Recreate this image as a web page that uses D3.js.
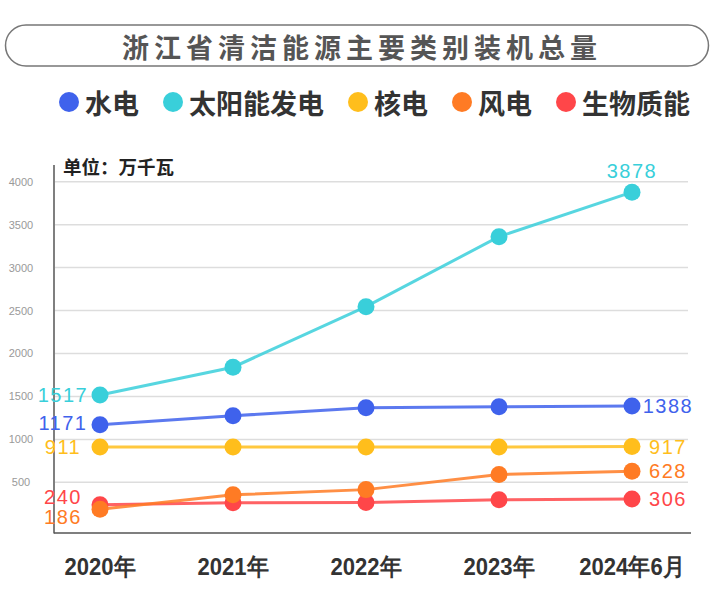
<!DOCTYPE html>
<html><head><meta charset="utf-8">
<script src="https://cdn.jsdelivr.net/npm/d3@7"></script>
<style>
html,body{margin:0;padding:0;background:#fff;}
svg{display:block;}
</style></head>
<body>
<svg id="chart" width="720" height="604"></svg>
<script>
const title = "浙江省清洁能源主要类别装机总量";
const unitLabel = "单位：万千瓦";
const categories = ["2020年", "2021年", "2022年", "2023年", "2024年6月"];
const seriesNames = ["水电", "太阳能发电", "核电", "风电", "生物质能"];
const seriesColors = ["#3F62EC", "#39CFDA", "#FFBE1C", "#FF7B24", "#FF4649"];
const hydro   = [1171, 1275, 1368, 1380, 1388];
const solar   = [1517, 1840, 2545, 3360, 3878];
const nuclear = [911, 911, 911, 911, 917];
const wind    = [186, 355, 415, 592, 628];
const biomass = [240, 262, 264, 296, 306];
const yTicks = [500, 1000, 1500, 2000, 2500, 3000, 3500, 4000];

const seriesValues = [hydro, solar, nuclear, wind, biomass];
const svg = d3.select("#chart");
const cjk = "'Noto Sans CJK SC','Noto Sans',sans-serif";
const num = "'Liberation Sans',Arial,sans-serif";

// title box
svg.append("rect").attr("x", 5.5).attr("y", 25).attr("width", 703).attr("height", 41)
  .attr("rx", 20.5).attr("fill", "#fff").attr("stroke", "#777").attr("stroke-width", 1.5);
svg.append("text").attr("x", 362).attr("y", 46).attr("text-anchor", "middle")
  .attr("dominant-baseline", "central").attr("font-family", cjk).attr("font-weight", 700)
  .attr("font-size", 27).attr("letter-spacing", 5).attr("fill", "#555").text(title);

// legend
const legend = svg.append("g");
let lx = 69;
seriesNames.forEach((n, i) => {
  legend.append("circle").attr("cx", lx).attr("cy", 102).attr("r", 10).attr("fill", seriesColors[i]);
  const t = legend.append("text").attr("x", lx + 16).attr("y", 102).attr("dominant-baseline", "central")
    .attr("font-family", cjk).attr("font-weight", 700).attr("font-size", 27).attr("fill", "#333").text(n);
  const w = t.node().getComputedTextLength();
  lx = lx + 16 + w + 34;
});

// scales
const x = d3.scalePoint().domain(categories).range([100, 632]);
const y = d3.scaleLinear().domain([-90, 4000]).range([533, 181.7]);

// gridlines
svg.append("g").selectAll("line").data(yTicks).join("line")
  .attr("x1", 55).attr("x2", 688).attr("y1", d => y(d)).attr("y2", d => y(d))
  .attr("stroke", "#ddd").attr("stroke-width", 1.5);
svg.append("g").selectAll("text").data(yTicks).join("text")
  .attr("x", 21).attr("y", d => y(d)).attr("text-anchor", "middle").attr("dominant-baseline", "central")
  .attr("font-family", num).attr("font-size", 11).attr("fill", "#999").text(d => d);

// axes lines
svg.append("line").attr("x1", 54).attr("x2", 54).attr("y1", 165).attr("y2", 533.5)
  .attr("stroke", "#555").attr("stroke-width", 1.5);
svg.append("line").attr("x1", 54).attr("x2", 691).attr("y1", 533).attr("y2", 533)
  .attr("stroke", "#555").attr("stroke-width", 1.5);

// unit label
svg.append("text").attr("x", 63).attr("y", 166).attr("dominant-baseline", "central")
  .attr("font-family", cjk).attr("font-weight", 700).attr("font-size", 18.5).attr("fill", "#222").text(unitLabel);

// x labels
svg.append("g").selectAll("text").data(categories).join("text")
  .attr("transform", d => `translate(${x(d)},575) scale(0.92,1)`).attr("text-anchor", "middle")
  .attr("font-family", num)
  .attr("font-weight", 700).attr("font-size", 24).attr("fill", "#333").text(d => d);

// lines & points
const drawOrder = [0, 1, 2, 4, 3];
const line = d3.line().x((d, i) => x(categories[i])).y(d => y(d));
drawOrder.forEach(si => {
  svg.append("path").datum(seriesValues[si]).attr("d", line).attr("fill", "none")
    .attr("stroke", seriesColors[si]).attr("stroke-width", 3).attr("stroke-opacity", 0.85);
});
drawOrder.forEach(si => {
  svg.append("g").selectAll("circle").data(seriesValues[si]).join("circle")
    .attr("cx", (d, i) => x(categories[i])).attr("cy", d => y(d)).attr("r", 8.5)
    .attr("fill", seriesColors[si]);
});

// value labels (first and last)
const labelG = svg.append("g").attr("font-family", num).attr("font-size", 20).attr("letter-spacing", 1.5);
const firstDy = [-2, 0, 0, 8, -8];
seriesValues.forEach((vals, si) => {
  labelG.append("text").attr("x", 63).attr("y", y(vals[0]) + firstDy[si])
    .attr("text-anchor", "middle").attr("dominant-baseline", "central")
    .attr("fill", seriesColors[si]).text(vals[0]);
  const last = vals[vals.length - 1];
  const lxp = x(categories[categories.length - 1]);
  if (si === 1) {
    labelG.append("text").attr("x", lxp).attr("y", y(last) - 21)
      .attr("text-anchor", "middle").attr("dominant-baseline", "central")
      .attr("fill", seriesColors[si]).text(last);
  } else {
    labelG.append("text").attr("x", 668).attr("y", y(last))
      .attr("text-anchor", "middle").attr("dominant-baseline", "central")
      .attr("fill", seriesColors[si]).text(last);
  }
});
</script>
</body></html>
